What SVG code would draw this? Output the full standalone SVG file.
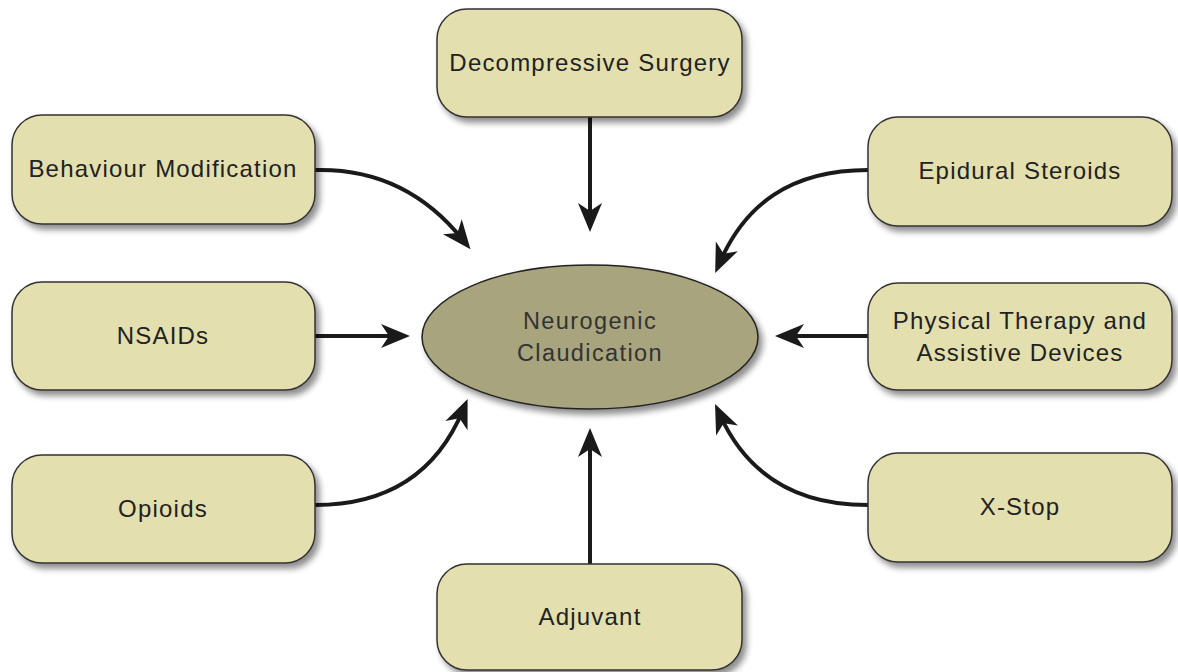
<svg xmlns="http://www.w3.org/2000/svg" width="1178" height="672" viewBox="0 0 1178 672">
<defs>
<filter id="sh" x="-10%" y="-10%" width="125%" height="135%">
<feGaussianBlur in="SourceAlpha" stdDeviation="3"/>
<feOffset dx="4" dy="5" result="b"/>
<feComponentTransfer><feFuncA type="linear" slope="0.45"/></feComponentTransfer>
<feMerge><feMergeNode/><feMergeNode in="SourceGraphic"/></feMerge>
</filter>
<marker id="ah" viewBox="-20 -13 34 26" markerWidth="34" markerHeight="26" refX="0" refY="0" orient="auto" markerUnits="userSpaceOnUse">
<path d="M12,0 L-17,-12 L-9,0 L-17,12 Z" fill="#1a1a1a"/>
</marker>
<style>
.box{fill:#E3DFAE;stroke:#333;stroke-width:1.5;filter:url(#sh)}
.lbl{font-family:"Liberation Sans",Arial,sans-serif;font-size:24px;letter-spacing:1.2px;fill:#222;text-anchor:middle}
.cl{font-family:"Liberation Sans",Arial,sans-serif;font-size:23.5px;letter-spacing:1.4px;fill:#333;text-anchor:middle}
.con{fill:none;stroke:#1a1a1a;stroke-width:4;marker-end:url(#ah)}
</style>
</defs>
<rect width="1178" height="672" fill="#fff"/>
<g id="connectors">
<path class="con" d="M590,117 L590,220"/>
<path class="con" d="M315,170 C390,168 435,205 463,240"/>
<path class="con" d="M315,336 L398,336"/>
<path class="con" d="M315,505 C390,505 438,470 463,410"/>
<path class="con" d="M590,564 L590,440"/>
<path class="con" d="M868,170 C790,170 745,205 720,262"/>
<path class="con" d="M868,336 L787,336"/>
<path class="con" d="M868,505 C790,505 745,470 720,415"/>
</g>
<g id="center">
<ellipse cx="590" cy="337" rx="168" ry="72" fill="#A8A47E" stroke="#222" stroke-width="1.5" filter="url(#sh)"/>
<text class="cl" x="590" y="329">Neurogenic</text>
<text class="cl" x="590" y="361">Claudication</text>
</g>
<g id="decompressive">
<rect class="box" x="437" y="9" width="305" height="108" rx="30"/>
<text class="lbl" x="590" y="71">Decompressive Surgery</text>
</g>
<g id="behaviour">
<rect class="box" x="12" y="115" width="303" height="109" rx="30"/>
<text class="lbl" x="163" y="177">Behaviour Modification</text>
</g>
<g id="nsaids">
<rect class="box" x="12" y="282" width="303" height="108" rx="30"/>
<text class="lbl" x="163" y="344">NSAIDs</text>
</g>
<g id="opioids">
<rect class="box" x="12" y="455" width="303" height="108" rx="30"/>
<text class="lbl" x="163" y="517">Opioids</text>
</g>
<g id="adjuvant">
<rect class="box" x="437" y="564" width="305" height="106" rx="30"/>
<text class="lbl" x="590" y="625">Adjuvant</text>
</g>
<g id="epidural">
<rect class="box" x="868" y="117" width="304" height="109" rx="30"/>
<text class="lbl" x="1020" y="179">Epidural Steroids</text>
</g>
<g id="physical">
<rect class="box" x="868" y="283" width="304" height="107" rx="30"/>
<text class="lbl" x="1020" y="329">Physical Therapy and</text>
<text class="lbl" x="1020" y="361">Assistive Devices</text>
</g>
<g id="xstop">
<rect class="box" x="868" y="453" width="304" height="109" rx="30"/>
<text class="lbl" x="1020" y="515">X-Stop</text>
</g>
</svg>
